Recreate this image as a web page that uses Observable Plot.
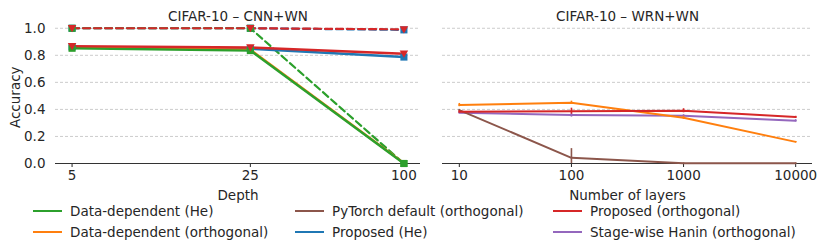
<!DOCTYPE html>
<html>
<head>
<meta charset="utf-8">
<script src="https://cdn.jsdelivr.net/npm/d3@7"></script>
<script src="https://cdn.jsdelivr.net/npm/@observablehq/plot@0.6"></script>
<style>
  body { margin: 0; background: #fff; }
  #wrap { position: relative; width: 830px; height: 242px; font-family: "DejaVu Sans", sans-serif; color: #262626; }
  #plots { display: flex; flex-direction: row; }
  .leg { position: absolute; font-size: 13.5px; line-height: 16px; white-space: nowrap; }
  .sw { position: absolute; height: 2px; width: 29px; }
</style>
</head>
<body>
<div id="wrap">
  <div id="plots"></div>
  <div id="legend"></div>
</div>
<script>
// ---------- data ----------
const seriesNames = ["Data-dependent (He)", "Data-dependent (orthogonal)", "PyTorch default (orthogonal)", "Proposed (He)", "Proposed (orthogonal)", "Stage-wise Hanin (orthogonal)"];
const seriesColors = ["#2ca02c", "#ff7f0e", "#8c564b", "#1f77b4", "#d62728", "#9467bd"];
const yTicks = [0, 0.2, 0.4, 0.6, 0.8, 1.0];

// Left panel: CIFAR-10 CNN+WN, x = depth
const leftTitle = "CIFAR-10 – CNN+WN";
const leftXLabel = "Depth";
const depths = [5, 25, 100];
const cnnTestPropHe   = [0.862, 0.848, 0.787];
const cnnTestPropOrth = [0.868, 0.858, 0.812];
const cnnTestDdHe     = [0.852, 0.835, 0.0];
const cnnTestDdOrth   = [0.857, 0.842, 0.003];
const cnnTrainPropHe   = [1.0, 1.0, 0.988];
const cnnTrainPropOrth = [1.0, 1.0, 0.992];
const cnnTrainDdHe     = [1.0, 1.0, 0.0];

// Right panel: CIFAR-10 WRN+WN, x = number of layers
const rightTitle = "CIFAR-10 – WRN+WN";
const rightXLabel = "Number of layers";
const layers = [10, 100, 1000, 10000];
const wrnDdOrth     = [0.432, 0.449, 0.338, 0.16];
const wrnDdOrthErr  = [0.012, 0.012, 0.012, 0.003];
const wrnPropOrth    = [0.382, 0.387, 0.390, 0.343];
const wrnPropOrthErr = [0.008, 0.022, 0.015, 0.006];
const wrnHanin     = [0.375, 0.358, 0.353, 0.316];
const wrnHaninErr  = [0.006, 0.015, 0.008, 0.008];
const wrnPytorch   = [0.395, 0.042, 0.002, 0.002];
const wrnPytorchLo = [0.390, 0.0, 0.0, 0.0];
const wrnPytorchHi = [0.400, 0.11, 0.004, 0.004];

// ---------- helpers ----------
const color = name => seriesColors[seriesNames.indexOf(name)];
const tidy = (xs, ys, name) => xs.map((x, i) => ({x, y: ys[i], name}));
const tidyErr = (xs, ys, lo, hi, name) => xs.map((x, i) => ({x, y: ys[i], lo: lo[i], hi: hi[i], name}));
const symErr = (ys, err) => [ys.map((v, i) => v - err[i]), ys.map((v, i) => v + err[i])];

const triangleDown = {
  draw(context, size) {
    const h = Math.sqrt(size) * 0.6;
    context.moveTo(-h, -h * 0.75);
    context.lineTo(h, -h * 0.75);
    context.lineTo(0, h * 0.95);
    context.closePath();
  }
};

const baseStyle = {fontFamily: "DejaVu Sans", fontSize: "13.5px", color: "#262626", background: "transparent", overflow: "visible"};

function gridAndAxis() {
  return [
    Plot.ruleY(yTicks.filter(d => d > 0), {stroke: "#cccccc", strokeWidth: 1, strokeDasharray: "3,2"}),
    Plot.ruleY([0], {stroke: "#333333", strokeWidth: 1.1})
  ];
}
const label = (txt, opts) => Plot.text([txt], {text: d => d, fontSize: 13.5, fill: "#262626", lineAnchor: "middle", textAnchor: "middle", ...opts});

// ---------- left panel ----------
const leftSeries = [
  {name: "Proposed (He)", test: cnnTestPropHe, train: cnnTrainPropHe, symbol: "square"},
  {name: "Data-dependent (orthogonal)", test: cnnTestDdOrth, train: null, symbol: "circle"},
  {name: "Data-dependent (He)", test: cnnTestDdHe, train: cnnTrainDdHe, symbol: "square"},
  {name: "Proposed (orthogonal)", test: cnnTestPropOrth, train: cnnTrainPropOrth, symbol: triangleDown}
];

const leftMarks = [...gridAndAxis()];
for (const s of leftSeries) {
  if (s.train) {
    leftMarks.push(Plot.line(tidy(depths, s.train, s.name), {x: "x", y: "y", stroke: color(s.name), strokeWidth: 2.2, strokeDasharray: "7,4"}));
  }
}
for (const s of leftSeries) {
  leftMarks.push(Plot.line(tidy(depths, s.test, s.name), {x: "x", y: "y", stroke: color(s.name), strokeWidth: 2.4}));
}
for (const s of leftSeries) {
  const pts = tidy(depths, s.test, s.name).concat(s.train ? tidy(depths, s.train, s.name) : []);
  leftMarks.push(Plot.dot(pts, {x: "x", y: "y", fill: color(s.name), stroke: "none", symbol: () => s.symbol, r: s.symbol === "circle" ? 3 : 4}));
}
leftMarks.push(
  label(leftTitle, {frameAnchor: "top", dy: -5}),
  label(leftXLabel, {frameAnchor: "bottom", dy: 32}),
  label("Accuracy", {frameAnchor: "left", y: [0.49], dx: -40, rotate: -90})
);

const left = Plot.plot({
  width: 425, height: 200,
  marginLeft: 55, marginRight: 5, marginTop: 21, marginBottom: 37,
  style: baseStyle,
  x: {type: "log", domain: [10 ** 0.634, 10 ** 2.065], ticks: depths, tickFormat: d => String(d), tickSize: 4, tickPadding: 3, label: null},
  y: {domain: [0, 1.05], ticks: yTicks, tickFormat: d => d.toFixed(1), tickSize: 0, tickPadding: 10, label: null},
  marks: leftMarks
});

// ---------- right panel ----------
const [ddLo, ddHi] = symErr(wrnDdOrth, wrnDdOrthErr);
const [poLo, poHi] = symErr(wrnPropOrth, wrnPropOrthErr);
const [hnLo, hnHi] = symErr(wrnHanin, wrnHaninErr);
const rightSeries = [
  tidyErr(layers, wrnHanin, hnLo, hnHi, "Stage-wise Hanin (orthogonal)"),
  tidyErr(layers, wrnPytorch, wrnPytorchLo, wrnPytorchHi, "PyTorch default (orthogonal)"),
  tidyErr(layers, wrnDdOrth, ddLo, ddHi, "Data-dependent (orthogonal)"),
  tidyErr(layers, wrnPropOrth, poLo, poHi, "Proposed (orthogonal)")
];
const rightMarks = [...gridAndAxis()];
for (const d of rightSeries) {
  const c = color(d[0].name);
  rightMarks.push(Plot.line(d, {x: "x", y: "y", stroke: c, strokeWidth: 2}));
  rightMarks.push(Plot.ruleX(d, {x: "x", y1: "lo", y2: "hi", stroke: c, strokeWidth: 1.6}));
}
rightMarks.push(
  label(rightTitle, {frameAnchor: "top", dy: -5}),
  label(rightXLabel, {frameAnchor: "bottom", dy: 32})
);

const right = Plot.plot({
  width: 405, height: 200,
  marginLeft: 17, marginRight: 18, marginTop: 21, marginBottom: 37,
  style: baseStyle,
  x: {type: "log", domain: [10 ** 0.85, 10 ** 4.15], ticks: layers, tickFormat: d => String(d), tickSize: 4, tickPadding: 3, label: null},
  y: {domain: [0, 1.05], axis: null},
  marks: rightMarks
});

document.getElementById("plots").append(left, right);

// ---------- legend ----------
const legendOrder = [
  ["Data-dependent (He)", 0, 0], ["Data-dependent (orthogonal)", 0, 1],
  ["PyTorch default (orthogonal)", 1, 0], ["Proposed (He)", 1, 1],
  ["Proposed (orthogonal)", 2, 0], ["Stage-wise Hanin (orthogonal)", 2, 1]
];
const colX = [33, 295, 553];
const rowY = [211, 232];
const legend = document.getElementById("legend");
for (const [name, col, row] of legendOrder) {
  const sw = document.createElement("div");
  sw.className = "sw";
  sw.style.left = colX[col] + "px";
  sw.style.top = (rowY[row] - 1) + "px";
  sw.style.background = color(name);
  const t = document.createElement("div");
  t.className = "leg";
  t.style.left = (colX[col] + 37) + "px";
  t.style.top = (rowY[row] - 8) + "px";
  t.textContent = name;
  legend.append(sw, t);
}
</script>
</body>
</html>
